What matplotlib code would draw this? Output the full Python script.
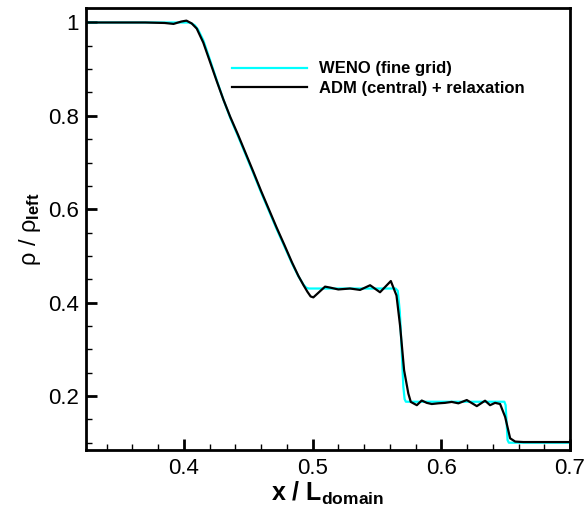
import matplotlib
matplotlib.use("Agg")
import matplotlib.pyplot as plt
from matplotlib.ticker import MultipleLocator, FormatStrFormatter

plt.rcParams['font.family'] = ['Liberation Sans', 'DejaVu Sans']
plt.rcParams['mathtext.fontset'] = 'custom'
plt.rcParams['mathtext.rm'] = 'Liberation Sans'
plt.rcParams['mathtext.bf'] = 'Liberation Sans:bold'
plt.rcParams['mathtext.it'] = 'Liberation Sans:italic'

# Reference solution: WENO on a fine grid
weno_x = [0.324, 0.4035, 0.4060, 0.4085, 0.4110, 0.4151, 0.4203, 0.4256, 0.4307,
          0.4360, 0.4420, 0.4480, 0.4540, 0.4600, 0.4660, 0.4720, 0.4780, 0.4840,
          0.4890, 0.4930, 0.4950, 0.4970, 0.5645, 0.5662, 0.5678, 0.5692, 0.5705,
          0.5715, 0.5725, 0.6490, 0.6500, 0.6508, 0.6515, 0.6525, 0.700]
weno_rho = [1.000, 1.000, 0.998, 0.994, 0.985, 0.962, 0.920, 0.876, 0.835,
            0.796, 0.757, 0.717, 0.677, 0.636, 0.597, 0.558, 0.521, 0.484,
            0.456, 0.438, 0.432, 0.430, 0.430, 0.425, 0.380, 0.300, 0.220,
            0.193, 0.1874, 0.1874, 0.180, 0.140, 0.105, 0.0996, 0.0996]

# ADM with central scheme plus relaxation
adm_x = [0.324, 0.370, 0.385, 0.392, 0.398, 0.402, 0.4061, 0.4100, 0.4151, 0.4203,
         0.4256, 0.4307, 0.4360, 0.4420, 0.4480, 0.4540, 0.4600, 0.4660, 0.4720,
         0.4780, 0.4840, 0.4890, 0.4930, 0.4960, 0.4985, 0.5006, 0.5097, 0.5136,
         0.5200, 0.5291, 0.5369, 0.5447, 0.5524, 0.5608, 0.5652, 0.5680, 0.5711,
         0.5744, 0.5763, 0.5810, 0.5848, 0.5887, 0.5926, 0.5977, 0.6029, 0.6081,
         0.6133, 0.6198, 0.6276, 0.6340, 0.6379, 0.6418, 0.6457, 0.6496, 0.6535,
         0.6574, 0.6638, 0.700]
adm_rho = [1.000, 1.000, 0.999, 0.997, 1.002, 1.004, 0.998, 0.987, 0.957, 0.916,
           0.874, 0.835, 0.798, 0.760, 0.720, 0.680, 0.639, 0.600, 0.561,
           0.524, 0.486, 0.457, 0.437, 0.423, 0.413, 0.411, 0.434, 0.432,
           0.428, 0.430, 0.427, 0.437, 0.422, 0.446, 0.415, 0.350, 0.255,
           0.205, 0.187, 0.180, 0.190, 0.185, 0.1825, 0.184, 0.185, 0.187,
           0.184, 0.191, 0.178, 0.1896, 0.180, 0.185, 0.1825, 0.155, 0.109,
           0.102, 0.101, 0.101]

x_ticks = [0.4, 0.5, 0.6, 0.7]
y_ticks = [0.2, 0.4, 0.6, 0.8, 1.0]

fig = plt.figure(figsize=(5.86, 5.18), dpi=100)
ax = fig.add_axes([0.1468, 0.1313, 0.8259, 0.8523])

ax.plot(weno_x, weno_rho, color='#00FFFF', lw=1.6, label='WENO (fine grid)')
ax.plot(adm_x, adm_rho, color='black', lw=1.6, label='ADM (central) + relaxation')

ax.set_xlim(0.324, 0.700)
ax.set_ylim(0.084, 1.030)

ax.set_xticks(x_ticks)
ax.set_yticks(y_ticks)
ax.xaxis.set_minor_locator(MultipleLocator(0.02))
ax.yaxis.set_minor_locator(MultipleLocator(0.05))
ax.xaxis.set_major_formatter(FormatStrFormatter('%g'))
ax.yaxis.set_major_formatter(FormatStrFormatter('%g'))

ax.tick_params(which='both', direction='in', top=False, right=False)
ax.tick_params(which='major', length=8, width=2.0, labelsize=16, pad=6)
ax.tick_params(axis='y', which='major', pad=5)
ax.tick_params(which='minor', length=4.5, width=1.0)
for s in ax.spines.values():
    s.set_linewidth(2.0)

ax.set_xlabel(r'$\mathbf{x\ /\ L}_{\mathbf{domain}}$', fontsize=18, labelpad=0)
ax.set_ylabel(r'ρ / ρ$_{\mathbf{left}}$', fontsize=17, labelpad=4)

ax.legend(loc='upper left', bbox_to_anchor=(0.301, 0.880), frameon=False,
          prop={'weight': 'bold', 'size': 12}, handlelength=4.5,
          handletextpad=0.75, labelspacing=0.25, borderpad=0, borderaxespad=0)

fig.savefig('out.png', dpi=100)
